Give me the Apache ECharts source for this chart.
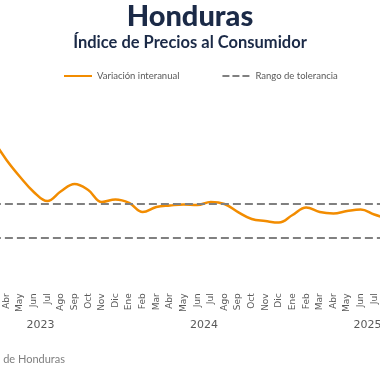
<!DOCTYPE html>
<html>
<head>
<meta charset="utf-8">
<script src="https://cdn.jsdelivr.net/npm/echarts@6/dist/echarts.min.js"></script>
<style>html,body{margin:0;padding:0;background:#fff;}#c{width:380px;height:380px;}</style>
</head>
<body>
<div id="c"></div>
<script>
const months = ['Mar','Abr','May','Jun','Jul','Ago','Sep','Oct','Nov','Dic',
  'Ene','Feb','Mar','Abr','May','Jun','Jul','Ago','Sep','Oct','Nov','Dic',
  'Ene','Feb','Mar','Abr','May','Jun','Jul','Ago'];
const inflation = [8.70,7.52,6.53,5.66,5.13,5.70,6.12,5.77,5.08,5.22,
  5.02,4.49,4.78,4.87,4.93,4.90,5.08,4.96,4.49,4.09,3.97,3.88,
  4.32,4.76,4.49,4.41,4.55,4.64,4.35,4.10];
const toleranceUpper = 5;
const toleranceLower = 3;
const yearLabels = ['2023','2024','2025'];
const yearCenters = [3.5, 15.5, 27.5];

const navy = '#1b2a47';
const chart = echarts.init(document.getElementById('c'));
chart.setOption({
  animation: false,
  title: [{
    text: 'Honduras', left: 'center', top: -3,
    textStyle: {fontFamily: 'Lato', fontWeight: 900, fontSize: 29, color: navy}
  }, {
    text: 'Índice de Precios al Consumidor', left: 'center', top: 29,
    textStyle: {fontFamily: 'Lato', fontWeight: 'bold', fontSize: 16.5, color: navy}
  }],
  legend: {
    top: 66, left: 58, itemWidth: 28, itemHeight: 10, itemGap: 42,
    textStyle: {fontFamily: 'Lato', fontSize: 9.5, color: '#595959'},
    itemStyle: {color: 'rgba(0,0,0,0)', borderColor: 'rgba(0,0,0,0)', borderWidth: 0},
    data: ['Variación interanual', 'Rango de tolerancia']
  },
  grid: {left: -7.12, right: -7.9, top: 117.3, bottom: 90.7, outerBoundsMode: 'none', containLabel: false},
  xAxis: [{
    type: 'category', data: months, boundaryGap: false,
    axisLine: {show: false}, axisTick: {show: false},
    axisLabel: {interval: 0, rotate: 90, margin: 4, fontFamily: 'DejaVu Sans', fontSize: 9, color: '#595959'}
  }, {
    type: 'value', min: 0, max: months.length - 1, position: 'bottom', offset: 22,
    splitLine: {show: false}, axisLine: {show: false}, axisTick: {show: false},
    axisLabel: {customValues: yearCenters, margin: 8, fontFamily: 'DejaVu Sans', fontSize: 11, color: '#595959',
      formatter: function (v) { const i = yearCenters.indexOf(v); return i >= 0 ? yearLabels[i] : ''; }}
  }],
  yAxis: {
    type: 'value', min: 0, max: 10, show: false, splitLine: {show: false}
  },
  series: [{
    name: 'Variación interanual', type: 'line', data: inflation, smooth: 0.4,
    symbol: 'none', lineStyle: {color: '#F28C00', width: 2.5}, itemStyle: {color: '#F28C00'}, z: 3
  }, {
    name: 'Rango de tolerancia', type: 'line', data: [], symbol: 'none',
    lineStyle: {color: '#808080', width: 2.5, type: [7, 3]}, itemStyle: {color: '#808080'},
    markLine: {
      silent: true, symbol: 'none', label: {show: false},
      lineStyle: {color: '#808080', width: 2, type: [8, 4]},
      data: [{yAxis: toleranceUpper}, {yAxis: toleranceLower}]
    }
  }],
  graphic: [{
    type: 'text', right: 315, top: 354,
    style: {text: 'Fuente: Banco Central de Honduras', fontFamily: 'Lato', fontSize: 11, fill: '#7f7f7f', textAlign: 'right'}
  }]
});
</script>
</body>
</html>
